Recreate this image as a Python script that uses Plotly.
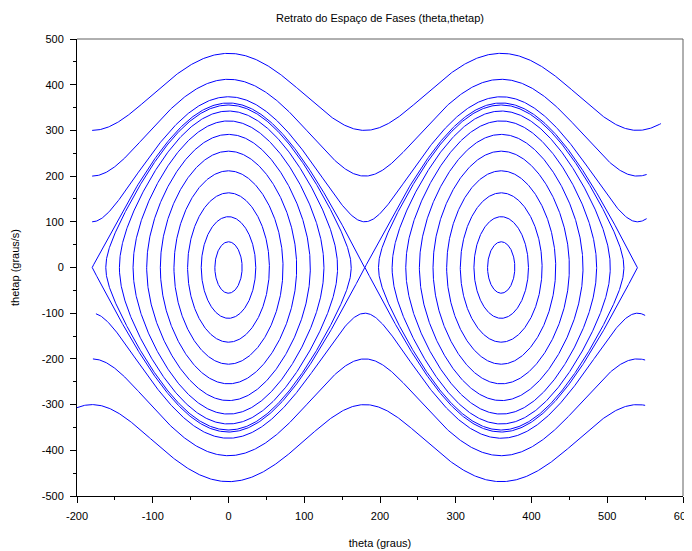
import numpy as np
import plotly.graph_objects as go

# --- data ---
# closed orbits (librations): amplitude in degrees, drawn around each centre
libration_amplitudes = [18, 36, 54, 72, 90, 108, 126, 144, 162, 179.9]
libration_centres = [0, 360]
# open orbits (rotations): speed at theta = 180 (graus/s) and theta span
rotation_speeds = [100, 200, 300, -100, -200, -300]
rotation_start = [-180, -180, -180, -175, -179, -215]
rotation_end = [552, 552, 571, 550, 550, 550]
# separatrix peak speed (graus/s) -> sets g/l
separatrix_peak = 360.0

x_tickvals = [-200, -100, 0, 100, 200, 300, 400, 500, 600]
x_ticktext = ["-200", "-100", "0", "100", "200", "300", "400", "500", "600"]
y_tickvals = [-500, -400, -300, -200, -100, 0, 100, 200, 300, 400, 500]
y_ticktext = ["-500", "-400", "-300", "-200", "-100", "0", "100", "200", "300", "400", "500"]

BLUE = "rgb(0,0,255)"
fig = go.Figure()

K = separatrix_peak ** 2


def libration(amp, centre):
    s = np.linspace(-np.pi / 2, np.pi / 2, 400)
    th = amp * np.sin(s)
    v = np.sqrt(np.clip(K * (np.cos(np.radians(th)) - np.cos(np.radians(amp))) / 2, 0, None))
    x = np.concatenate([th, th[::-1]]) + centre
    y = np.concatenate([v, -v[::-1]])
    return x, y


for c in libration_centres:
    for a in libration_amplitudes:
        x, y = libration(a, c)
        fig.add_trace(go.Scatter(x=x, y=y, mode="lines",
                                 line=dict(color=BLUE, width=1),
                                 hoverinfo="skip", showlegend=False))

for v180, t0, t1 in zip(rotation_speeds, rotation_start, rotation_end):
    th = np.linspace(t0, t1, 800)
    v = np.sign(v180) * np.sqrt(v180 ** 2 + K * (1 + np.cos(np.radians(th))) / 2)
    fig.add_trace(go.Scatter(x=th, y=v, mode="lines",
                             line=dict(color=BLUE, width=1),
                             hoverinfo="skip", showlegend=False))

font = dict(family="Liberation Sans, Arial, sans-serif", size=11, color="black")

# page body adds an 8px offset; the figure is sized to fill the rest
W, H = 684, 543
L, R, T, B = 69, 9, 31, 55

fig.update_layout(
    width=W, height=H,
    margin=dict(l=L, r=R, t=T, b=B),
    paper_bgcolor="white", plot_bgcolor="white",
    font=font,
    title=dict(text="Retrato do Espaço de Fases (theta,thetap)",
               x=(L + (W - R)) / 2 / W, xanchor="center",
               y=1 - 10 / H, yanchor="middle",
               font=dict(family="Liberation Sans, Arial, sans-serif", size=11)),
    xaxis=dict(range=[-200, 600], tickvals=x_tickvals, ticktext=x_ticktext,
               automargin=False, ticklabeloverflow="allow", ticklabelstandoff=4,
               showgrid=False, zeroline=False, showline=True, linecolor="black",
               linewidth=1, ticks="outside", ticklen=6, tickcolor="black",
               minor=dict(dtick=50, ticks="outside", ticklen=3, tickcolor="black", showgrid=False),
               title=dict(text="theta (graus)", standoff=18, font=font)),
    yaxis=dict(range=[-500, 500], tickvals=y_tickvals, ticktext=y_ticktext,
               automargin=False, ticklabeloverflow="allow", ticklabelstandoff=4,
               showgrid=False, zeroline=False, showline=True, linecolor="black",
               linewidth=1, ticks="outside", ticklen=6, tickcolor="black",
               minor=dict(dtick=50, ticks="outside", ticklen=3, tickcolor="black", showgrid=False),
               title=dict(text="thetap (graus/s)", standoff=19, font=font)),
    shapes=[
        dict(type="line", xref="paper", yref="paper", x0=0, x1=1, y0=1, y1=1,
             line=dict(color="#606060", width=1)),
        dict(type="line", xref="paper", yref="paper", x0=1, x1=1, y0=0, y1=1,
             line=dict(color="#606060", width=1)),
    ],
)

fig.write_html("out.html")
